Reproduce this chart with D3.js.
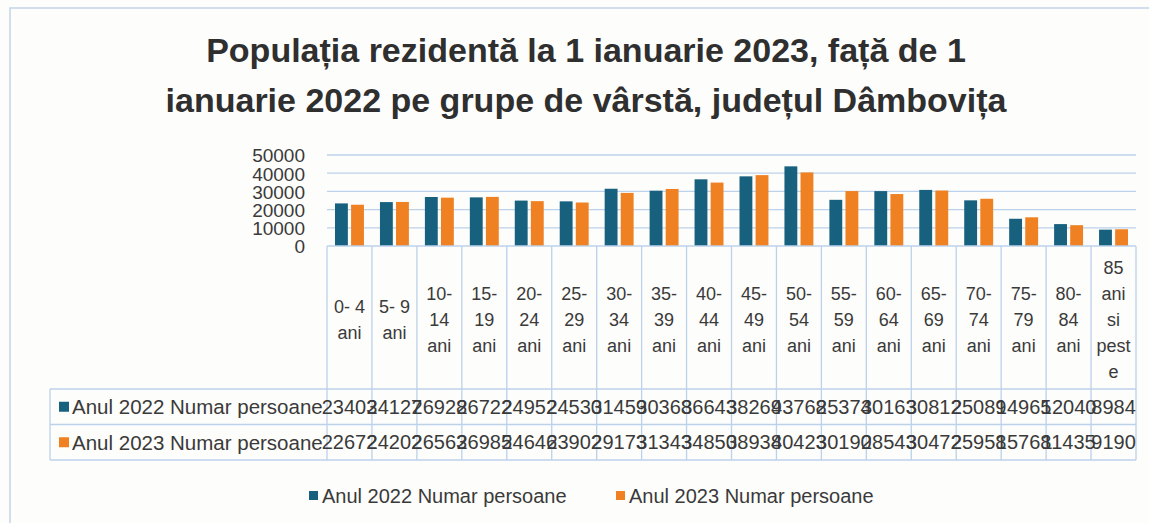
<!DOCTYPE html>
<html>
<head>
<meta charset="utf-8">
<script src="https://cdn.jsdelivr.net/npm/d3@7"></script>
<style>
  body { margin: 0; background: #fdfdfb; }
  svg { display: block; }
  text { font-family: "Liberation Sans", Arial, sans-serif; }
</style>
</head>
<body>
<svg id="chart" width="1149" height="523"></svg>
<script>
// age groups
const categories = ["0- 4 ani", "5- 9 ani", "10- 14 ani", "15- 19 ani", "20- 24 ani", "25- 29 ani",
  "30- 34 ani", "35- 39 ani", "40- 44 ani", "45- 49 ani", "50- 54 ani", "55- 59 ani",
  "60- 64 ani", "65- 69 ani", "70- 74 ani", "75- 79 ani", "80- 84 ani", "85 ani si peste"];

const values2022 = [23403, 24127, 26928, 26722, 24952, 24530, 31459, 30368, 36643,
  38269, 43768, 25374, 30163, 30812, 25089, 14965, 12040, 8984];
const values2023 = [22672, 24202, 26563, 26985, 24646, 23902, 29173, 31343, 34850,
  38938, 40423, 30190, 28543, 30472, 25958, 15768, 11435, 9190];

const seriesNames = ["Anul 2022 Numar persoane", "Anul 2023 Numar persoane"];
const yTicks = [0, 10000, 20000, 30000, 40000, 50000];
const titleLines = ["Populația rezidentă la 1 ianuarie 2023, față de 1",
  "ianuarie 2022 pe grupe de vârstă, județul Dâmbovița"];

const colors = ["#17617f", "#ef8122"];
const gridColor = "#bcd1ea";
const textColor = "#3a3a3a";

const svg = d3.select("#chart");

// outer chart border (scanned frame)
svg.append("path")
  .attr("d", "M10,523 V8 H1149")
  .attr("fill", "none")
  .attr("stroke", "#c3d4ea")
  .attr("stroke-width", 1.5);

// title
svg.selectAll(".title")
  .data(titleLines).enter()
  .append("text")
    .attr("class", "title")
    .attr("x", 586)
    .attr("y", (d, i) => 62 + i * 50)
    .attr("text-anchor", "middle")
    .attr("font-family", "'Liberation Sans', Arial, sans-serif")
    .attr("font-weight", "bold")
    .attr("font-size", 34)
    .attr("fill", "#2f2f2f")
    .text(d => d);

const plotLeft = 327, plotRight = 1136, plotTop = 155, plotBottom = 246;

const x = d3.scaleBand().domain(categories).range([plotLeft, plotRight]);
const x1 = d3.scaleBand().domain([0, 1]).range([8, x.bandwidth() - 8]).paddingInner(0.2);
const y = d3.scaleLinear().domain([0, 50000]).range([plotBottom, plotTop]);

// gridlines
svg.append("g")
  .selectAll("line")
  .data(yTicks.slice(1)).enter()
  .append("line")
    .attr("x1", plotLeft)
    .attr("x2", plotRight)
    .attr("y1", d => y(d))
    .attr("y2", d => y(d))
    .attr("stroke", gridColor)
    .attr("stroke-width", 1.3);

// y axis
const yAxis = svg.append("g")
  .attr("transform", `translate(${plotLeft - 22},0)`)
  .call(d3.axisLeft(y).tickValues(yTicks).tickSize(0).tickPadding(0).tickFormat(d3.format("d")));
yAxis.select(".domain").remove();
yAxis.selectAll("text")
  .attr("font-size", 19)
  .attr("fill", textColor)
  .attr("font-family", "'Liberation Sans', Arial, sans-serif")
  .attr("dy", "0.36em");

// bars
const series = [values2022, values2023];
series.forEach((vals, s) => {
  svg.append("g")
    .selectAll("rect")
    .data(vals).enter()
    .append("rect")
      .attr("x", (d, i) => x(categories[i]) + x1(s))
      .attr("width", x1.bandwidth())
      .attr("y", d => y(d))
      .attr("height", d => y(0) - y(d))
      .attr("fill", colors[s]);
});

// data table
const rowTop = 389, rowH = 35.5, tableLeft = 50;
const table = svg.append("g");

// category cell verticals
table.selectAll(".vcat")
  .data(categories.map((c, i) => i).concat([categories.length])).enter()
  .append("line")
    .attr("x1", i => i < categories.length ? x(categories[i]) : plotRight)
    .attr("x2", i => i < categories.length ? x(categories[i]) : plotRight)
    .attr("y1", plotBottom)
    .attr("y2", rowTop + 2 * rowH)
    .attr("stroke", gridColor)
    .attr("stroke-width", 1.3);

// horizontal table lines
table.append("line")
  .attr("x1", plotLeft).attr("x2", plotRight)
  .attr("y1", plotBottom).attr("y2", plotBottom)
  .attr("stroke", gridColor).attr("stroke-width", 1.3);
[0, 1, 2].forEach(r => {
  table.append("line")
    .attr("x1", tableLeft).attr("x2", plotRight)
    .attr("y1", rowTop + r * rowH).attr("y2", rowTop + r * rowH)
    .attr("stroke", gridColor).attr("stroke-width", 1.3);
});
table.append("line")
  .attr("x1", tableLeft).attr("x2", tableLeft)
  .attr("y1", rowTop).attr("y2", rowTop + 2 * rowH)
  .attr("stroke", gridColor).attr("stroke-width", 1.3);

// category labels, wrapped to cell width
const maxW = x.bandwidth() - 4;
const catText = table.selectAll(".cat")
  .data(categories).enter()
  .append("text")
    .attr("class", "cat")
    .attr("font-size", 18)
    .attr("fill", textColor)
    .attr("text-anchor", "middle");

catText.each(function(d) {
  const t = d3.select(this);
  const cx = x(d) + x.bandwidth() / 2;
  const probe = t.append("tspan");
  const fits = s => { probe.text(s); return probe.node().getComputedTextLength() <= maxW; };
  const lines = [];
  let cur = "";
  d.split(" ").forEach(w => {
    const tryLine = cur ? cur + " " + w : w;
    if (fits(tryLine)) { cur = tryLine; return; }
    if (cur) lines.push(cur);
    cur = "";
    // break long word by characters
    let part = "";
    for (const ch of w) {
      if (fits(part + ch)) part += ch;
      else { lines.push(part); part = ch; }
    }
    cur = part;
  });
  if (cur) lines.push(cur);
  probe.remove();
  const lh = 26;
  const midY = 320;
  const y0 = midY - (lines.length - 1) * lh / 2;
  lines.forEach((ln, i) => {
    t.append("tspan")
      .attr("x", cx)
      .attr("y", y0 + i * lh)
      .attr("dy", "0.35em")
      .text(ln);
  });
});

// table rows: legend key + values
series.forEach((vals, s) => {
  const cy = rowTop + s * rowH + rowH / 2;
  table.append("rect")
    .attr("x", 59).attr("y", cy - 5)
    .attr("width", 10).attr("height", 10)
    .attr("fill", colors[s]);
  table.append("text")
    .attr("x", 72).attr("y", cy)
    .attr("dy", "0.36em")
    .attr("font-size", 20.5)
    .attr("fill", textColor)
    .text(seriesNames[s]);
  table.append("g")
    .selectAll("text")
    .data(vals).enter()
    .append("text")
      .attr("x", (d, i) => x(categories[i]) + x.bandwidth() / 2)
      .attr("y", cy)
      .attr("dy", "0.36em")
      .attr("text-anchor", "middle")
      .attr("font-size", 20)
      .attr("fill", textColor)
      .text(d => d);
});

// bottom legend
const legend = svg.append("g");
const legendX = [309, 616];
seriesNames.forEach((name, s) => {
  legend.append("rect")
    .attr("x", legendX[s]).attr("y", 491)
    .attr("width", 9).attr("height", 9)
    .attr("fill", colors[s]);
  legend.append("text")
    .attr("x", legendX[s] + 13).attr("y", 496)
    .attr("dy", "0.36em")
    .attr("font-size", 20)
    .attr("fill", textColor)
    .text(name);
});
</script>
</body>
</html>
